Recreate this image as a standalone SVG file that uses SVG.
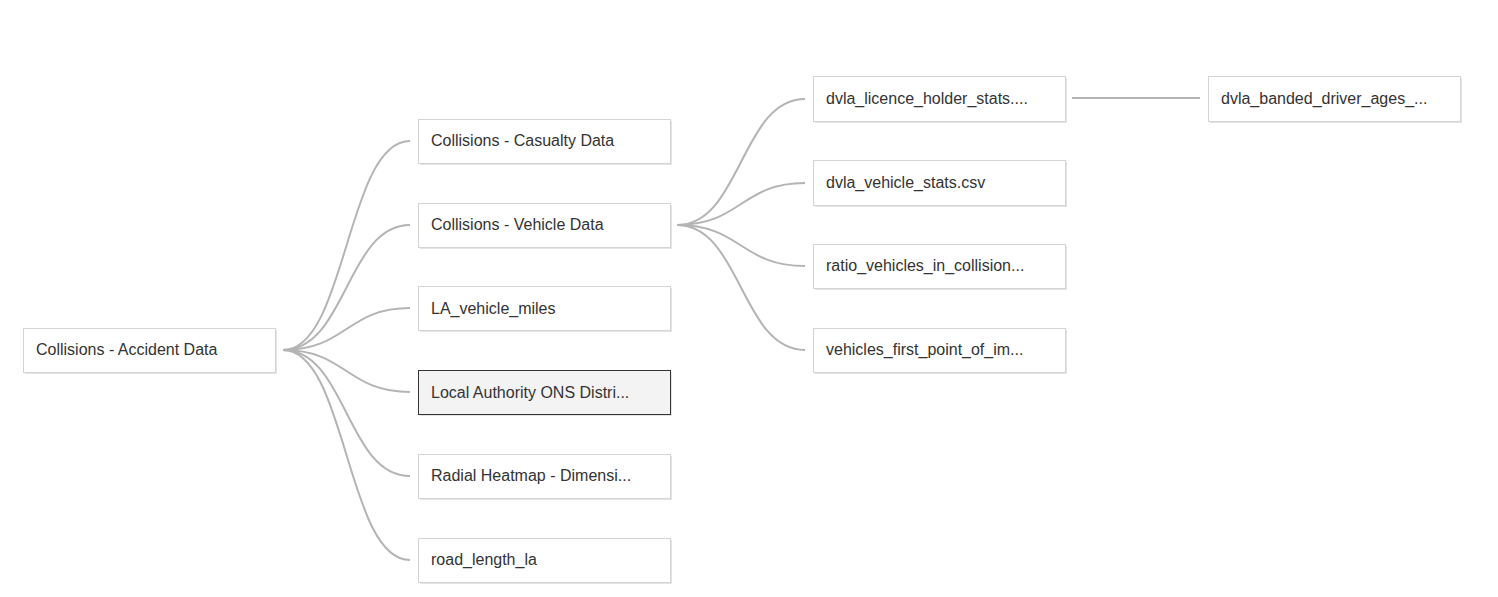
<svg xmlns="http://www.w3.org/2000/svg" width="1498" height="597" viewBox="0 0 1498 597">
<style>
.box{fill:#fff;stroke:#d4d4d4;stroke-width:1}
.sel{fill:#f3f3f3;stroke:#333;stroke-width:1}
.sh{fill:#e4e4e4}
.t{font-family:"Liberation Sans",Arial,sans-serif;font-size:16px;fill:#333}
.c{fill:none;stroke:#b4b4b4;stroke-width:2}
</style>
<rect width="1498" height="597" fill="#fff"/>
<g id="connectors">
<path class="c" d="M283,350 C346.5,350 346.5,141 410,141"/>
<path class="c" d="M283,350 C346.5,350 346.5,225 410,225"/>
<path class="c" d="M283,350 C346.5,350 346.5,308 410,308"/>
<path class="c" d="M283,350 C346.5,350 346.5,392 410,392"/>
<path class="c" d="M283,350 C346.5,350 346.5,476 410,476"/>
<path class="c" d="M283,350 C346.5,350 346.5,560 410,560"/>
<path class="c" d="M677,225 C741,225 741,99 805,99"/>
<path class="c" d="M677,225 C741,225 741,183 805,183"/>
<path class="c" d="M677,225 C741,225 741,266 805,266"/>
<path class="c" d="M677,225 C741,225 741,350 805,350"/>
<path class="c" d="M1072,98 L1200,98"/>
</g>
<g id="n-accident"><rect class="sh" x="25" y="330" width="252" height="44"/><rect class="box" x="23.5" y="328.5" width="252" height="44"/><text class="t" x="36" y="355">Collisions - Accident Data</text></g>
<g id="n-casualty"><rect class="sh" x="420" y="121" width="252" height="44"/><rect class="box" x="418.5" y="119.5" width="252" height="44"/><text class="t" x="431" y="146">Collisions - Casualty Data</text></g>
<g id="n-vehicle"><rect class="sh" x="420" y="205" width="252" height="44"/><rect class="box" x="418.5" y="203.5" width="252" height="44"/><text class="t" x="431" y="230">Collisions - Vehicle Data</text></g>
<g id="n-miles"><rect class="sh" x="420" y="288" width="252" height="44"/><rect class="box" x="418.5" y="286.5" width="252" height="44"/><text class="t" x="431" y="314">LA_vehicle_miles</text></g>
<g id="n-ons"><rect class="sh" x="420" y="372" width="252" height="44"/><rect class="sel" x="418.5" y="370.5" width="252" height="44"/><text class="t" x="431" y="398">Local Authority ONS Distri...</text></g>
<g id="n-radial"><rect class="sh" x="420" y="456" width="252" height="44"/><rect class="box" x="418.5" y="454.5" width="252" height="44"/><text class="t" x="431" y="481">Radial Heatmap - Dimensi...</text></g>
<g id="n-road"><rect class="sh" x="420" y="540" width="252" height="44"/><rect class="box" x="418.5" y="538.5" width="252" height="44"/><text class="t" x="431" y="565">road_length_la</text></g>
<g id="n-licence"><rect class="sh" x="815" y="78" width="252" height="45"/><rect class="box" x="813.5" y="76.5" width="252" height="45"/><text class="t" x="826" y="104">dvla_licence_holder_stats....</text></g>
<g id="n-vstats"><rect class="sh" x="815" y="162" width="252" height="45"/><rect class="box" x="813.5" y="160.5" width="252" height="45"/><text class="t" x="826" y="188">dvla_vehicle_stats.csv</text></g>
<g id="n-ratio"><rect class="sh" x="815" y="246" width="252" height="44"/><rect class="box" x="813.5" y="244.5" width="252" height="44"/><text class="t" x="826" y="271">ratio_vehicles_in_collision...</text></g>
<g id="n-impact"><rect class="sh" x="815" y="330" width="252" height="44"/><rect class="box" x="813.5" y="328.5" width="252" height="44"/><text class="t" x="826" y="355">vehicles_first_point_of_im...</text></g>
<g id="n-banded"><rect class="sh" x="1210" y="78" width="252" height="45"/><rect class="box" x="1208.5" y="76.5" width="252" height="45"/><text class="t" x="1221" y="104">dvla_banded_driver_ages_...</text></g>
</svg>
